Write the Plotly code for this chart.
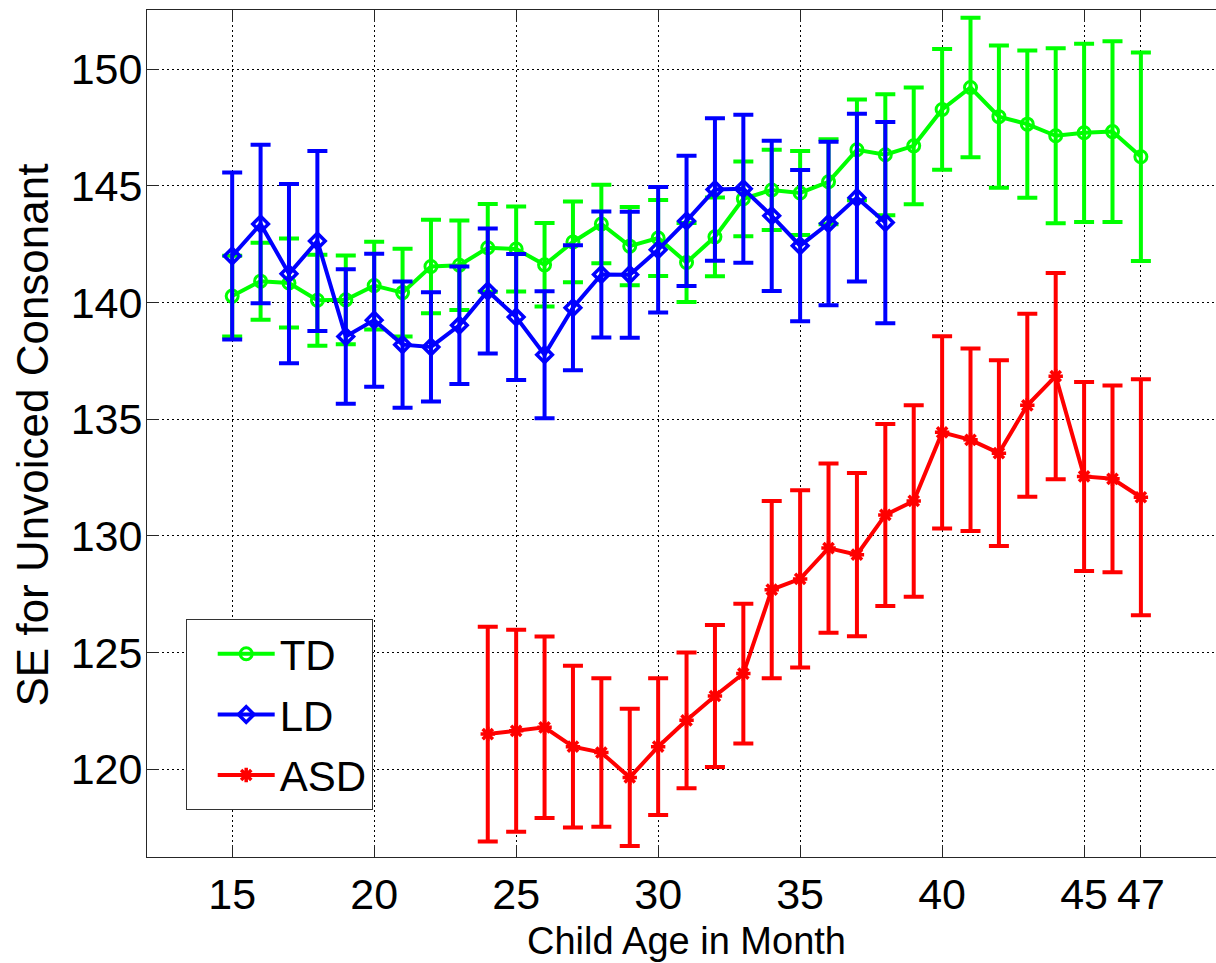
import plotly.graph_objects as go

# ---------------- data ----------------
months_td = [15, 16, 17, 18, 19, 20, 21, 22, 23, 24, 25, 26, 27, 28, 29, 30, 31,
             32, 33, 34, 35, 36, 37, 38, 39, 40, 41, 42, 43, 44, 45, 46, 47]
td_mean = [140.28, 140.92, 140.84, 140.1, 140.12, 140.73, 140.43, 141.55, 141.6, 142.35,
           142.3, 141.62, 142.6, 143.37, 142.42, 142.77, 141.72, 142.82, 144.45, 144.83,
           144.7, 145.18, 146.55, 146.34, 146.72, 148.28, 149.22, 147.97, 147.65, 147.15,
           147.28, 147.33, 146.25]
td_err = [1.73, 1.65, 1.91, 1.95, 1.9, 1.88, 1.88, 2.0, 1.92, 1.88,
          1.82, 1.79, 1.73, 1.68, 1.68, 1.63, 1.69, 1.69, 1.6, 1.72,
          1.8, 1.82, 2.16, 2.59, 2.5, 2.59, 2.99, 3.05, 3.16, 3.75,
          3.82, 3.87, 4.47]

months_ld = [15, 16, 17, 18, 19, 20, 21, 22, 23, 24, 25, 26, 27, 28, 29, 30, 31,
             32, 33, 34, 35, 36, 37, 38]
ld_mean = [142.0, 143.37, 141.24, 142.64, 138.55, 139.25, 138.2, 138.1, 139.03, 140.5,
           139.38, 137.77, 139.78, 141.21, 141.2, 142.27, 143.5, 144.85, 144.88, 143.72,
           142.44, 143.39, 144.5, 143.43]
ld_err = [3.58, 3.4, 3.84, 3.86, 2.88, 2.85, 2.71, 2.34, 2.52, 2.68,
          2.7, 2.72, 2.68, 2.7, 2.7, 2.69, 2.79, 3.05, 3.17, 3.22,
          3.24, 3.5, 3.59, 4.31]

months_asd = [24, 25, 26, 27, 28, 29, 30, 31, 32, 33, 34, 35, 36, 37, 38, 39, 40,
              41, 42, 43, 44, 45, 46, 47]
asd_mean = [121.51, 121.65, 121.8, 120.97, 120.72, 119.65, 120.97, 122.1, 123.14, 124.1,
            127.7, 128.16, 129.48, 129.2, 130.9, 131.5, 134.44, 134.12, 133.55, 135.6,
            136.85, 132.55, 132.45, 131.66]
asd_err = [4.6, 4.33, 3.89, 3.47, 3.18, 2.94, 2.93, 2.91, 3.04, 2.99,
           3.8, 3.8, 3.63, 3.5, 3.9, 4.1, 4.12, 3.91, 3.98, 3.92,
           4.42, 4.05, 4.0, 5.06]

x_ticks = [15, 20, 25, 30, 35, 40, 45, 47]
y_ticks = [120, 125, 130, 135, 140, 145, 150]

series_names = ["TD", "LD", "ASD"]
series_colors = ["#00FF00", "#0000FF", "#FF0000"]

FONT = "Liberation Sans, Arial, Helvetica, sans-serif"

fig = go.Figure()


def add_series(name, x, y, err, color, symbol, msize, mline, group):
    fig.add_trace(go.Scatter(
        x=x, y=y, name=name, mode="lines+markers", legendgroup=group,
        line=dict(color=color, width=4),
        marker=dict(symbol=symbol, size=msize, color=color,
                    line=dict(color=color, width=mline)),
        error_y=dict(type="data", array=err, visible=True, color=color,
                     thickness=4, width=10),
    ))


add_series(series_names[0], months_td, td_mean, td_err, series_colors[0],
           "circle-open", 12, 3, "g1")
add_series(series_names[1], months_ld, ld_mean, ld_err, series_colors[1],
           "diamond-open", 12, 3.5, "g2")
add_series(series_names[2], months_asd, asd_mean, asd_err, series_colors[2],
           "asterisk-open", 12, 3.5, "g3")

L, T, B = 147, 10, 106
W, H = 1216, 963
plot_w = W - L
plot_h = H - T - B

px_per_month = 28.397
x0 = 12.0
x1 = x0 + plot_w / px_per_month
px_per_unit = 23.333
y_top = 150 + (69.3 - T) / px_per_unit
y_bot = y_top - plot_h / px_per_unit

grid_dash = "1.5px,3.5px"
axis_col = "#262626"

fig.update_layout(
    width=W, height=H,
    margin=dict(l=L, r=0, t=T, b=B, pad=0),
    paper_bgcolor="white", plot_bgcolor="white",
    font=dict(family=FONT, size=40, color="black"),
    showlegend=True,
    legend=dict(
        x=(185.7 - L) / plot_w, y=(H - B - 619) / plot_h,
        xanchor="left", yanchor="top",
        bgcolor="white", bordercolor="#333333", borderwidth=1,
        font=dict(family=FONT, size=42, color="black"),
        tracegroupgap=3, itemwidth=57, indentation=26,
    ),
    xaxis=dict(
        range=[x0, x1], tickvals=x_ticks, ticktext=[str(v) for v in x_ticks],
        showgrid=True, gridcolor="black", griddash=grid_dash, gridwidth=1,
        zeroline=False, showline=True, linecolor=axis_col, linewidth=1,
        mirror="ticks", ticks="inside", ticklen=12, tickcolor=axis_col,
        tickfont=dict(family=FONT, size=43, color="black"),
        ticklabelstandoff=-1, automargin=False,
    ),
    yaxis=dict(
        range=[y_bot, y_top], tickvals=y_ticks, ticktext=[str(v) for v in y_ticks],
        showgrid=True, gridcolor="black", griddash=grid_dash, gridwidth=1,
        zeroline=False, showline=True, linecolor=axis_col, linewidth=1,
        mirror=False, ticks="inside", ticklen=12, tickcolor=axis_col,
        tickfont=dict(family=FONT, size=43, color="black"),
        ticklabelstandoff=-5, automargin=False,
    ),
    annotations=[
        dict(text="Child Age in Month", xref="paper", yref="paper",
             x=(686 - L) / plot_w, y=(H - B - 941) / plot_h,
             xanchor="center", yanchor="middle", showarrow=False,
             font=dict(family=FONT, size=38, color="black")),
        dict(text="SE for Unvoiced Consonant", xref="paper", yref="paper",
             x=(31.5 - L) / plot_w, y=(H - B - 435) / plot_h,
             xanchor="center", yanchor="middle", showarrow=False, textangle=-90,
             font=dict(family=FONT, size=44, color="black")),
    ],
)

fig.write_html("out.html")
